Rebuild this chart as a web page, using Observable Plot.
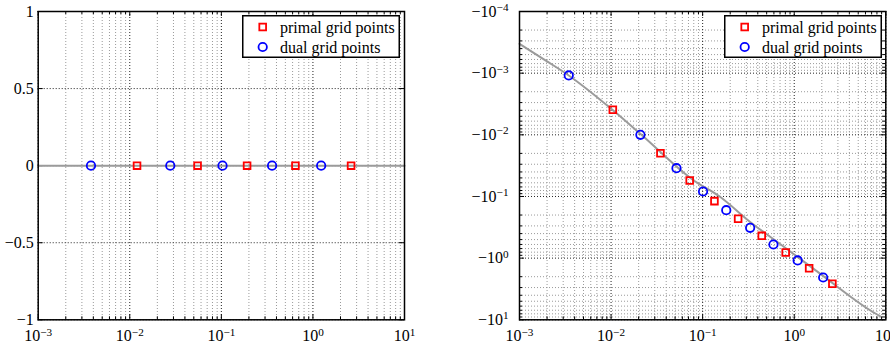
<!DOCTYPE html>
<html>
<head>
<meta charset="utf-8">
<script src="https://cdn.jsdelivr.net/npm/d3@7"></script>
<script src="https://cdn.jsdelivr.net/npm/@observablehq/plot@0.6"></script>
<style>
  body { margin: 0; background: #fff; }
  #fig { position: relative; width: 890px; height: 349px; overflow: hidden; background: #fff; }
  #fig svg { position: absolute; top: 0; }
</style>
</head>
<body>
<div id="fig"></div>
<script>
// Axis ticks
const xMajor = [1e-3, 1e-2, 1e-1, 1e0, 1e1];
const minorSteps = [2, 3, 4, 5, 6, 7, 8, 9];
const yMajorLeft = [-1, -0.5, 0, 0.5, 1];
const yMajorRight = [-1e1, -1e0, -1e-1, -1e-2, -1e-3, -1e-4];

// Series names
const seriesNames = ["primal grid points", "dual grid points"];

// Left panel: grid points on the real axis
const leftPrimalX = [0.012, 0.055, 0.191, 0.644, 2.61];
const leftPrimalY = [0, 0, 0, 0, 0];
const leftDualX = [0.00377, 0.0277, 0.103, 0.358, 1.23];
const leftDualY = [0, 0, 0, 0, 0];
const leftCurveX = [1e-3, 1e1];
const leftCurveY = [0, 0];

// Right panel: grid points on the negative axis
const rightPrimalX = [0.01045, 0.0346, 0.0722, 0.1345, 0.244, 0.442, 0.807, 1.455, 2.61];
const rightPrimalY = [-0.00393, -0.0199, -0.0551, -0.119, -0.230, -0.435, -0.811, -1.455, -2.61];
const rightDualX = [0.00345, 0.0209, 0.0518, 0.101, 0.181, 0.330, 0.593, 1.09, 2.07];
const rightDualY = [-0.00109, -0.0100, -0.0348, -0.083, -0.167, -0.322, -0.601, -1.09, -2.06];
const rightCurveX = [0.001, 0.00192, 0.00345, 0.0105, 0.0213, 0.08, 0.152, 0.333, 0.738, 1.93, 6.8, 8.7];
const rightCurveY = [-3.34e-4, -6.2e-4, -0.00109, -0.0040, -0.0099, -0.055, -0.099, -0.261, -0.624, -1.80, -7.06, -8.8];

const zip = (xs, ys) => xs.map((x, i) => ({x, y: ys[i]}));

const xMinor = xMajor.slice(0, -1).flatMap(d => minorSteps.map(m => d * m));
const yMinorRight = yMajorRight.slice(1).flatMap(d => minorSteps.map(m => d * m));

const FONT = '"Liberation Serif", serif';
const FONT_SIZE = 16;
const H = 349, MT = 11, MB = 29.7;
const frameH = H - MT - MB;
const TICK = 5, MINOR = 3;
const majorGrid = {stroke: "#222", strokeOpacity: 1, strokeDasharray: "1,2"};
const minorGrid = {stroke: "#9a9a9a", strokeOpacity: 1, strokeDasharray: "1,2"};
const primalStyle = {symbol: "square", r: 3.8, stroke: "#ff0000", strokeWidth: 1.8, fill: "none"};
const dualStyle = {symbol: "circle", r: 4.2, stroke: "#0000ff", strokeWidth: 1.8, fill: "none"};
const curveStyle = {stroke: "#9b9b9b", strokeWidth: 2};

const pow10 = d => "10^" + String(Math.round(Math.log10(Math.abs(d)))).replace("-", "−");
const signed = d => (d < 0 ? "−" : "") + Math.abs(d);

// inward tick marks on all four sides of the box
function boxTicks(xs, ys, frameW, len) {
  const out = [];
  if (xs) {
    out.push(Plot.tickX(xs, {x: d => d, insetBottom: frameH - len, stroke: "#000"}));
    out.push(Plot.tickX(xs, {x: d => d, insetTop: frameH - len, stroke: "#000"}));
  }
  if (ys) {
    out.push(Plot.tickY(ys, {y: d => d, insetRight: frameW - len, stroke: "#000"}));
    out.push(Plot.tickY(ys, {y: d => d, insetLeft: frameW - len, stroke: "#000"}));
  }
  return out;
}

// render "10^k" tick labels with a raised exponent
function superscripts(svg) {
  d3.select(svg).selectAll('g[aria-label$="tick label"] text').each(function () {
    const m = this.textContent.match(/^(.*10)\^(.+)$/);
    if (!m) return;
    const t = d3.select(this).text(null);
    t.append("tspan").text(m[1]);
    t.append("tspan").attr("dy", "-0.5em").attr("font-size", "0.7em").text(m[2]);
  });
  d3.select(svg).selectAll("text").style("font-family", FONT);
}

const baseStyle = {fontSize: FONT_SIZE + "px", overflow: "visible", background: "transparent", color: "#000"};

// Left panel
const leftW = 445, leftML = 37.7, leftMR = 41;
const leftFrameW = leftW - leftML - leftMR;
const leftPlot = Plot.plot({
  width: leftW, height: H,
  marginLeft: leftML, marginRight: leftMR, marginTop: MT, marginBottom: MB,
  style: baseStyle,
  x: {type: "log", domain: [1e-3, 1e1]},
  y: {domain: [-1, 1]},
  marks: [
    Plot.gridX(xMinor, minorGrid),
    Plot.gridX(xMajor, majorGrid),
    Plot.gridY(yMajorLeft, majorGrid),
    ...boxTicks(xMinor, null, leftFrameW, MINOR),
    ...boxTicks(xMajor, yMajorLeft, leftFrameW, TICK),
    Plot.line(zip(leftCurveX, leftCurveY), {x: "x", y: "y", ...curveStyle}),
    Plot.dot(zip(leftDualX, leftDualY), {x: "x", y: "y", ...dualStyle}),
    Plot.dot(zip(leftPrimalX, leftPrimalY), {x: "x", y: "y", ...primalStyle}),
    Plot.frame({stroke: "#000", strokeWidth: 1.5}),
    Plot.axisX(xMajor, {tickFormat: pow10, tickSize: 0, tickPadding: 10, label: null, fontSize: FONT_SIZE}),
    Plot.axisY(yMajorLeft, {tickFormat: signed, tickSize: 0, tickPadding: 4.5, label: null, fontSize: FONT_SIZE})
  ]
});
leftPlot.style.left = "0px";
superscripts(leftPlot);

// Right panel
const rightW = 445, rightML = 74, rightMR = 4.7;
const rightFrameW = rightW - rightML - rightMR;
const rightPlot = Plot.plot({
  width: rightW, height: H,
  marginLeft: rightML, marginRight: rightMR, marginTop: MT, marginBottom: MB,
  style: baseStyle,
  x: {type: "log", domain: [1e-3, 1e1]},
  y: {type: "log", domain: [-1e1, -1e-4]},
  marks: [
    Plot.gridX(xMinor, minorGrid),
    Plot.gridY(yMinorRight, minorGrid),
    Plot.gridX(xMajor, majorGrid),
    Plot.gridY(yMajorRight, majorGrid),
    ...boxTicks(xMinor, yMinorRight, rightFrameW, MINOR),
    ...boxTicks(xMajor, yMajorRight, rightFrameW, TICK),
    Plot.line(zip(rightCurveX, rightCurveY), {x: "x", y: "y", curve: "monotone-x", ...curveStyle}),
    Plot.dot(zip(rightPrimalX, rightPrimalY), {x: "x", y: "y", ...primalStyle}),
    Plot.dot(zip(rightDualX, rightDualY), {x: "x", y: "y", ...dualStyle}),
    Plot.frame({stroke: "#000", strokeWidth: 1.5}),
    Plot.axisX(xMajor, {tickFormat: pow10, tickSize: 0, tickPadding: 10, label: null, fontSize: FONT_SIZE}),
    Plot.axisY(yMajorRight, {tickFormat: d => "−" + pow10(d), tickSize: 0, tickPadding: 11, label: null, fontSize: FONT_SIZE})
  ]
});
rightPlot.style.left = "445px";
superscripts(rightPlot);

const fig = document.getElementById("fig");
fig.append(leftPlot, rightPlot);

// legend boxes in the upper-right corner of each panel
function legend(left) {
  const svg = d3.create("svg")
    .attr("width", 158).attr("height", 43)
    .style("left", left + "px").style("top", "15px");
  svg.append("rect").attr("x", 0.75).attr("y", 0.75).attr("width", 156.5).attr("height", 41.5)
    .attr("fill", "#fff").attr("stroke", "#000").attr("stroke-width", 1.5);
  const rows = [
    {name: seriesNames[0], style: primalStyle, cy: 12},
    {name: seriesNames[1], style: dualStyle, cy: 32}
  ];
  rows.forEach(r => {
    if (r.style.symbol === "square") {
      const s = r.style.r * Math.sqrt(Math.PI);
      svg.append("rect").attr("x", 20.7 - s / 2).attr("y", r.cy - s / 2).attr("width", s).attr("height", s)
        .attr("fill", "none").attr("stroke", r.style.stroke).attr("stroke-width", r.style.strokeWidth);
    } else {
      svg.append("circle").attr("cx", 20.7).attr("cy", r.cy).attr("r", r.style.r)
        .attr("fill", "none").attr("stroke", r.style.stroke).attr("stroke-width", r.style.strokeWidth);
    }
    svg.append("text").attr("x", 38).attr("y", r.cy + 5.5)
      .style("font-family", FONT).attr("font-size", FONT_SIZE)
      .text(r.name);
  });
  fig.append(svg.node());
}
legend(242);
legend(723.5);
</script>
</body>
</html>
